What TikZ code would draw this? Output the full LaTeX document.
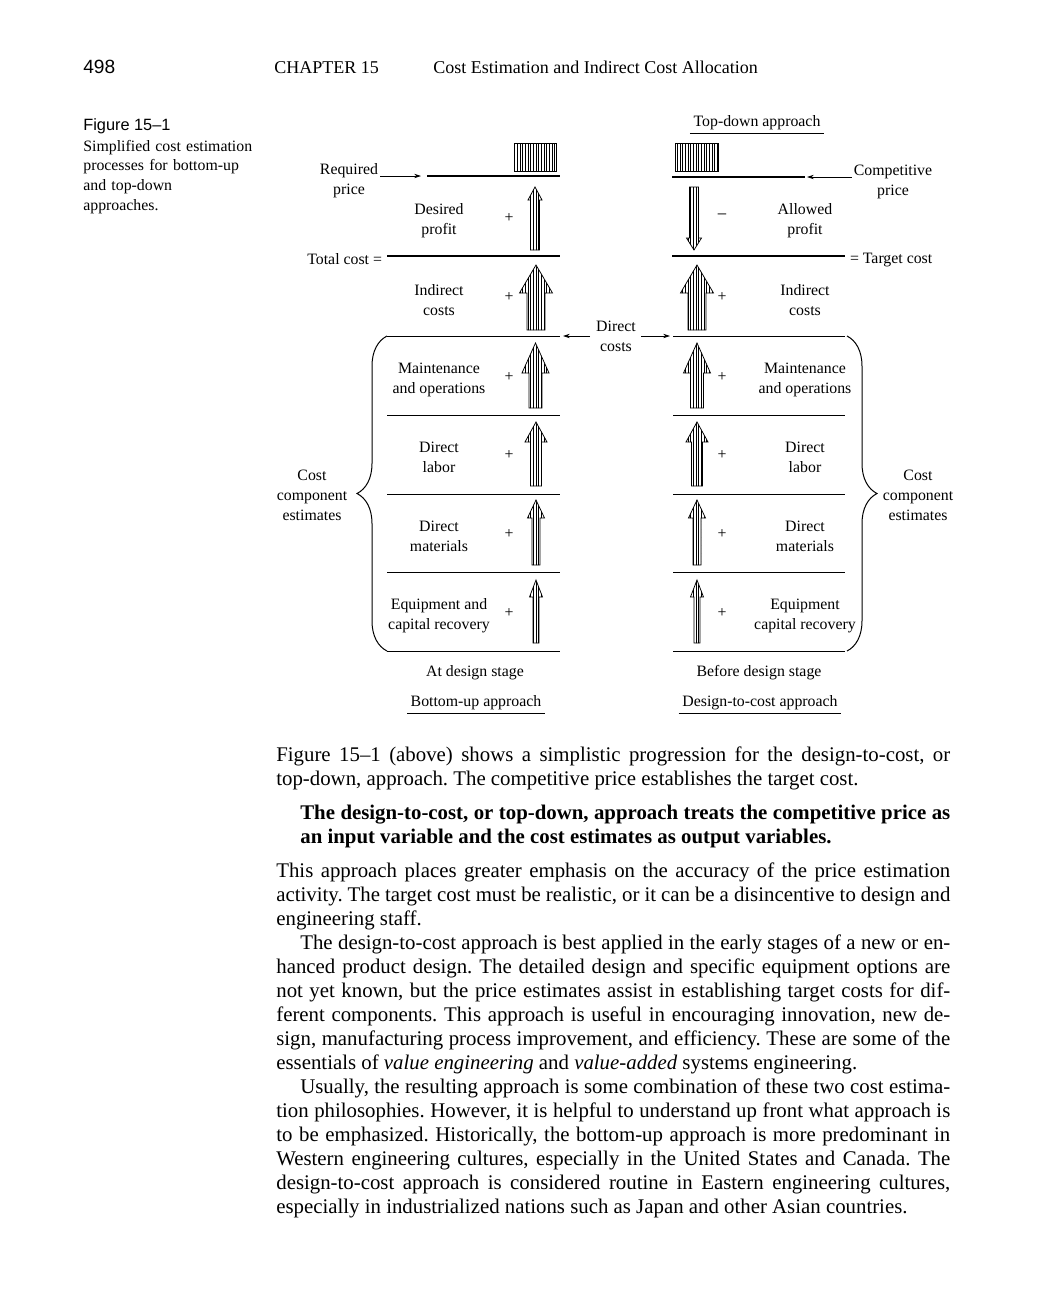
\documentclass[tikz,border=0pt]{standalone}
\usepackage{fontspec}
\setmainfont{Liberation Serif}
\newfontfamily\headsans{Liberation Sans}
\usetikzlibrary{arrows.meta,patterns.meta,decorations.pathreplacing,positioning}
\frenchspacing

\tikzset{
  lbl/.style={font=\fontsize{9.5}{12}\selectfont, align=center, inner sep=1pt, yshift=-1pt},
  approach/.style={lbl, inner sep=2pt},
  bodytext/.style={font=\fontsize{12.5}{14.4}\selectfont, text width=404.4pt, align=justify, anchor=base west, inner sep=0pt},
  hatch/.style={draw, line width=0.45pt, pattern={Lines[angle=90,distance=1.6pt,line width=0.25pt]}},
  bar/.style={line width=0.6pt},
  pricebar/.style={line width=1pt},
  feed/.style={-{Stealth[length=4pt,width=2.6pt]}, line width=0.45pt},
  brace/.style={decorate, decoration={brace, amplitude=18pt}, line width=0.6pt},
}

% hollow hatched arrow: x, tail y, tip y, shaft half width, head half width, head length
\newcommand\costarrow[6]{%
  \filldraw[hatch] (#1-#4,#2) -- (#1-#4,#3+#6) -- (#1-#5,#3+#6) -- (#1,#3)
    -- (#1+#5,#3+#6) -- (#1+#4,#3+#6) -- (#1+#4,#2) -- cycle;}

\begin{document}
\begin{tikzpicture}[x=0.6pt, y=-0.6pt]
\useasboundingbox[fill=white] (0,0) rectangle (1054,1312);

% running head
\node[anchor=base west, inner sep=0pt, font=\headsans\fontsize{11.5}{13}\selectfont] (page) at (83,73) {498};
\node[anchor=base west, inner sep=0pt, font=\fontsize{10.8}{13}\selectfont] (chap) at (274,73) {CHAPTER 15};
\node[anchor=base west, inner sep=0pt, font=\fontsize{10.8}{13}\selectfont] (title) at (433,73) {Cost Estimation and Indirect Cost Allocation};

% figure caption
\node[anchor=base west, inner sep=0pt, font=\headsans\fontsize{9.8}{12}\selectfont] (fignum) at (83,130) {Figure 15–1};
\node[anchor=base west, inner sep=0pt, text width=110pt, align=left, font=\fontsize{9.5}{11.8}\selectfont] (figcap) at (83,151)
  {Simplified cost estimation\\processes for bottom-up\\and top-down\\approaches.};

% ---- bottom-up (left) ----
\filldraw[hatch] (514,143) rectangle (556,171);
\node[lbl] (reqprice) at (349,179) {Required\\price};
\coordinate (reqend) at (421,176);
\draw[feed] (reqprice.east |- reqend) -- (reqend);
\draw[pricebar] (427,176) -- (560,176);
\node[lbl, anchor=east] (totalcost) at (384,257) {Total cost =};
\draw[pricebar] (387,256) -- (560,256);
\foreach \y in {336,415,494,572,651}
  \draw[bar] (387,\y) -- (560,\y);
\draw[brace] (387,651) -- (387,336);
\node[lbl] (lcce) at (312,494) {Cost\\component\\estimates};

\node[lbl] (dprofit) at (439,219) {Desired\\profit};
\node[lbl] (lindir) at (439,298) {Indirect\\costs};
\node[lbl] (lmaint) at (439,378) {Maintenance\\and operations};
\node[lbl] (llabor) at (439,456) {Direct\\labor};
\node[lbl] (lmat) at (439,535) {Direct\\materials};
\node[lbl] (lequip) at (439,614) {Equipment and\\capital recovery};
\foreach \y in {216,295,375,453,532,611}
  \node[lbl] at (509,\y) {+};

\costarrow{535}{250}{187}{4.5}{7}{13}
\costarrow{536}{330}{265}{9}{16.5}{28}
\costarrow{535.5}{408}{343}{6.5}{13.5}{30}
\costarrow{536}{486}{422}{5.5}{11}{20}
\costarrow{536}{565}{500}{4}{8.5}{18}
\costarrow{536}{643}{580}{3}{6.5}{17}

\node[lbl] (atdesign) at (475,671) {At design stage};
\node[approach] (bottomup) at (476,701) {Bottom-up approach};
\draw[line width=0.45pt] (bottomup.south west) -- (bottomup.south east);

% ---- direct costs in the middle ----
\node[lbl] (dircosts) at (616,335) {Direct\\costs};
\coordinate (dcleft) at (563,336);
\coordinate (dcright) at (670,336);
\draw[feed] (590,336) -- (dcleft);
\draw[feed] (641,336) -- (dcright);

% ---- top-down (right) ----
\node[approach] (topdown) at (757,121) {Top-down approach};
\draw[line width=0.45pt] (topdown.south west) -- (topdown.south east);
\filldraw[hatch] (675,143) rectangle (718,171);
\node[lbl] (comprice) at (893,180) {Competitive\\price};
\coordinate (compend) at (807,177);
\draw[feed] (comprice.west |- compend) -- (compend);
\draw[pricebar] (672,177) -- (805,177);
\node[lbl, anchor=west] (targetcost) at (848,258) {= Target cost};
\draw[pricebar] (672,256) -- (845,256);
\foreach \y in {336,415,494,572,651}
  \draw[bar] (673,\y) -- (845,\y);
\draw[brace] (847,336) -- (847,651);
\node[lbl] (rcce) at (918,494) {Cost\\component\\estimates};

\node[lbl] (aprofit) at (805,219) {Allowed\\profit};
\node[lbl] (rindir) at (805,298) {Indirect\\costs};
\node[lbl] (rmaint) at (805,378) {Maintenance\\and operations};
\node[lbl] (rlabor) at (805,456) {Direct\\labor};
\node[lbl] (rmat) at (805,535) {Direct\\materials};
\node[lbl] (requip) at (805,614) {Equipment\\capital recovery};
\node[lbl, font=\fontsize{11}{12}\selectfont] at (722,216) {−};
\foreach \y in {295,375,453,532,611}
  \node[lbl] at (722,\y) {+};

\costarrow{694}{187}{250}{4.5}{7.5}{-12}
\costarrow{697}{330}{265}{9}{16.5}{28}
\costarrow{697}{408}{343}{6.5}{13.5}{30}
\costarrow{697}{486}{422}{5.5}{11}{20}
\costarrow{697}{565}{500}{4}{8.5}{18}
\costarrow{697}{643}{580}{3}{6.5}{17}

\node[lbl] (beforedesign) at (759,671) {Before design stage};
\node[approach] (dtc) at (760,701) {Design-to-cost approach};
\draw[line width=0.45pt] (dtc.south west) -- (dtc.south east);

% ---- running text ----
\node[bodytext] (para1) at (276,761) {Figure 15–1 (above) shows a simplistic progression for the design-to-cost, or\linebreak
  top-down, approach. The competitive price establishes the target cost.};
\node[bodytext, text width=390pt, font=\bfseries\fontsize{12.5}{14.4}\selectfont] (para2) at (300,819)
  {The design-to-cost, or top-down, approach treats the competitive price as\linebreak
  an input variable and the cost estimates as output variables.};
\node[bodytext] (para3) at (276,877) {This approach places greater emphasis on the accuracy of the price estimation\linebreak
  activity. The target cost must be realistic, or it can be a disincentive to design and\linebreak
  engineering staff.};
\node[bodytext] (para4) at (276,949) {\hspace*{14.4pt}The design-to-cost approach is best applied in the early stages of a new or en-\linebreak
  hanced product design. The detailed design and specific equipment options are\linebreak
  not yet known, but the price estimates assist in establishing target costs for dif-\linebreak
  ferent components. This approach is useful in encouraging innovation, new de-\linebreak
  sign, manufacturing process improvement, and efficiency. These are some of the\linebreak
  essentials of \emph{value engineering} and \emph{value-added} systems engineering.};
\node[bodytext] (para5) at (276,1093) {\hspace*{14.4pt}Usually, the resulting approach is some combination of these two cost estima-\linebreak
  tion philosophies. However, it is helpful to understand up front what approach is\linebreak
  to be emphasized. Historically, the bottom-up approach is more predominant in\linebreak
  Western engineering cultures, especially in the United States and Canada. The\linebreak
  design-to-cost approach is considered routine in Eastern engineering cultures,\linebreak
  especially in industrialized nations such as Japan and other Asian countries.};
\end{tikzpicture}
\end{document}
